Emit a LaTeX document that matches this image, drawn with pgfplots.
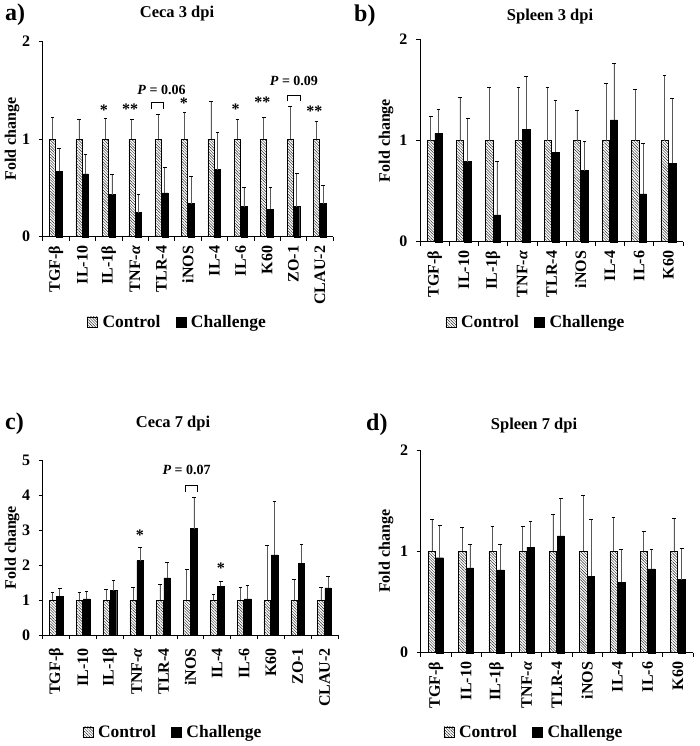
\documentclass[border=0pt]{standalone}
\usepackage{fontspec}
\setmainfont{Liberation Serif}
\usepackage{pgfplots}
\usepackage{pgfplotstable}
\pgfplotsset{compat=1.18}
\usetikzlibrary{patterns.meta}

\newcommand\fs[1]{\fontsize{#1}{#1}\selectfont\bfseries}

\pgfplotstableread{
x c ce h he
0 1 0.226 0.671 0.237
1 1 0.199 0.644 0.198
2 1 0.209 0.432 0.205
3 1 0.200 0.247 0.188
4 1 0.253 0.449 0.260
5 1 0.274 0.339 0.277
6 1 0.390 0.688 0.380
7 1 0.202 0.308 0.195
8 1 0.219 0.281 0.222
9 1 0.339 0.308 0.346
10 1 0.185 0.339 0.185
}\dataA

\pgfplotstableread{
x c ce h he
0 1 0.238 1.073 0.237
1 1 0.429 0.792 0.429
2 1 0.528 0.264 0.525
3 1 0.528 1.112 0.522
4 1 0.521 0.884 0.512
5 1 0.294 0.703 0.284
6 1 0.568 1.205 0.557
7 1 0.502 0.472 0.498
8 1 0.647 0.776 0.637
}\dataB

\pgfplotstableread{
x c ce h he
0 1 0.21 1.106 0.221
1 1 0.21 1.03 0.21
2 1 0.29 1.27 0.28
3 1 0.365 2.125 0.385
4 1 0.44 1.635 0.435
5 1 0.875 3.04 0.88
6 1 0.15 1.39 0.15
7 1 0.365 1.03 0.38
8 1 1.55 2.29 1.53
9 1 0.60 2.05 0.55
10 1 0.36 1.35 0.33
}\dataC

\pgfplotstableread{
x c ce h he
0 1 0.311 0.937 0.321
1 1 0.232 0.838 0.232
2 1 0.248 0.818 0.252
3 1 0.248 1.043 0.255
4 1 0.364 1.152 0.368
5 1 0.556 0.755 0.556
6 1 0.338 0.695 0.328
7 1 0.199 0.828 0.195
8 1 0.321 0.722 0.311
}\dataD

\tikzset{
  ast/.style={font=\fs{16}, anchor=center},
  pv/.style={font=\fs{14}, anchor=center},
  ylab/.style={font=\fs{16}, rotate=90, anchor=center},
}

\pgfplotsset{
  panel/.style={
    scale only axis, ybar, ymin=0, enlargelimits=false,
    axis x line*=bottom, axis y line*=left,
    axis line style={line width=0.8pt, black},
    tick align=outside,
    major x tick style={draw=none},
    minor x tick style={black, line width=0.6pt},
    major y tick style={black, line width=0.6pt},
    major tick length=4pt, minor tick length=4pt,
    xticklabel style={rotate=90, anchor=east, font=\fs{16}, inner ysep=2pt, inner xsep=5pt},
    yticklabel style={font=\fs{16}, xshift=-5pt},
    /pgf/number format/assume math mode=true,
    legend style={draw=none, fill=none, font=\fs{17.5}, anchor=center, legend columns=2,
      /tikz/every even column/.append style={column sep=13pt}},
    clip=false,
  },
  sqleg/.style={legend image code/.code={\draw[##1] (0pt,-5pt) rectangle (10pt,5pt); \path (13pt,0pt);}},
  eb/.style={/pgfplots/error bars/y dir=plus, /pgfplots/error bars/y explicit,
    /pgfplots/error bars/error bar style={black!65, line width=0.6pt},
    /pgfplots/error bars/error mark options={rotate=90, mark size=1.8pt, black, line width=0.8pt}},
  ctrl/.style={draw=black, line width=0.5pt, pattern={Lines[angle=-45,distance=2pt,line width=0.45pt]}, pattern color=black!85, sqleg},
  chal/.style={draw=black, fill=black, sqleg},
}

\begin{document}
\begin{tikzpicture}[x=1pt,y=1pt]
\path[use as bounding box] (0,0) rectangle (700,-746);

% panel a
\begin{axis}[panel, at={(42.7pt,-236.7pt)}, anchor=south west, width=290.3pt, height=195pt,
  xmin=-0.5, xmax=10.5, ymax=2, ytick={0,1,2},
  xtick={0,...,10}, xticklabels={TGF-β, IL-10, IL-1β, TNF-{\itshape α}, TLR-4, iNOS, IL-4, IL-6, K60, ZO-1, CLAU-2},
  minor xtick={-0.5,0.5,...,10.5},
  bar width=6pt,
  legend style={at={(0.464,-0.437)}}]
\addplot[ctrl, bar shift=-3.3pt, eb] table[x=x, y=c, y error=ce] {\dataA};
\addplot[chal, bar shift=3.3pt, eb] table[x=x, y=h, y error=he] {\dataA};
\legend{Control, Challenge}
\node[ast] at (axis cs:1.82,1.30) {*};
\node[ast] at (axis cs:2.81,1.31) {**};
\node[ast] at (axis cs:4.85,1.37) {*};
\node[ast] at (axis cs:6.81,1.31) {*};
\node[ast] at (axis cs:7.82,1.38) {**};
\node[ast] at (axis cs:9.79,1.29) {**};
\node[pv] at (axis cs:4.0,1.505) {\textit{P} = 0.06};
\draw[line width=0.7pt] (axis cs:3.62,1.307) -- (axis cs:3.62,1.374) -- (axis cs:4.06,1.374) -- (axis cs:4.06,1.307);
\node[pv] at (axis cs:9.02,1.60) {\textit{P} = 0.09};
\draw[line width=0.7pt] (axis cs:8.77,1.389) -- (axis cs:8.77,1.45) -- (axis cs:9.25,1.45) -- (axis cs:9.25,1.389);
\end{axis}

% panel b
\begin{axis}[panel, at={(420pt,-241.7pt)}, anchor=south west, width=263pt, height=202.4pt,
  xmin=-0.5, xmax=8.5, ymax=2, ytick={0,1,2},
  xtick={0,...,8}, xticklabels={TGF-β, IL-10, IL-1β, TNF-{\itshape α}, TLR-4, iNOS, IL-4, IL-6, K60},
  minor xtick={-0.5,0.5,...,8.5},
  bar width=7.2pt,
  legend style={at={(0.441,-0.397)}}]
\addplot[ctrl, bar shift=-3.9pt, eb] table[x=x, y=c, y error=ce] {\dataB};
\addplot[chal, bar shift=3.9pt, eb] table[x=x, y=h, y error=he] {\dataB};
\legend{Control, Challenge}
\end{axis}

% panel c
\begin{axis}[panel, at={(42.7pt,-635pt)}, anchor=south west, width=295.3pt, height=175pt,
  xmin=-0.5, xmax=10.5, ymax=5, ytick={0,1,2,3,4,5},
  xtick={0,...,10}, xticklabels={TGF-β, IL-10, IL-1β, TNF-{\itshape α}, TLR-4, iNOS, IL-4, IL-6, K60, ZO-1, CLAU-2},
  minor xtick={-0.5,0.5,...,10.5},
  xticklabel style={inner xsep=9pt},
  bar width=6.6pt,
  legend style={at={(0.441,-0.554)}}]
\addplot[ctrl, bar shift=-3.6pt, eb] table[x=x, y=c, y error=ce] {\dataC};
\addplot[chal, bar shift=3.6pt, eb] table[x=x, y=h, y error=he] {\dataC};
\legend{Control, Challenge}
\node[ast] at (axis cs:3.12,2.84) {*};
\node[ast] at (axis cs:6.14,1.91) {*};
\node[pv] at (axis cs:4.86,4.71) {\textit{P} = 0.07};
\draw[line width=0.7pt] (axis cs:4.80,4.08) -- (axis cs:4.80,4.27) -- (axis cs:5.26,4.27) -- (axis cs:5.26,4.08);
\end{axis}

% panel d
\begin{axis}[panel, at={(420.7pt,-652.7pt)}, anchor=south west, width=272.3pt, height=202.7pt,
  xmin=-0.5, xmax=8.5, ymax=2, ytick={0,1,2},
  xtick={0,...,8}, xticklabels={TGF-β, IL-10, IL-1β, TNF-{\itshape α}, TLR-4, iNOS, IL-4, IL-6, K60},
  minor xtick={-0.5,0.5,...,8.5},
  bar width=7.2pt,
  legend style={at={(0.416,-0.391)}}]
\addplot[ctrl, bar shift=-3.9pt, eb] table[x=x, y=c, y error=ce] {\dataD};
\addplot[chal, bar shift=3.9pt, eb] table[x=x, y=h, y error=he] {\dataD};
\legend{Control, Challenge}
\end{axis}

% axis titles
\node[ylab] at (12,-139.2) {Fold change};
\node[ylab] at (386,-140.5) {Fold change};
\node[ylab] at (12,-547.5) {Fold change};
\node[ylab] at (386,-551.3) {Fold change};

% titles and panel letters
\node[font=\fs{16.5}] at (177,-14) {Ceca 3 dpi};
\node[font=\fs{16.5}] at (550,-17) {Spleen 3 dpi};
\node[font=\fs{16.5}] at (173,-424) {Ceca 7 dpi};
\node[font=\fs{16.5}] at (534,-426) {Spleen 7 dpi};
\node[font=\fs{24}, anchor=west, inner sep=0pt] at (5,-15) {a)};
\node[font=\fs{24}, anchor=west, inner sep=0pt] at (354,-16) {b)};
\node[font=\fs{24}, anchor=west, inner sep=0pt] at (5,-424) {c)};
\node[font=\fs{24}, anchor=west, inner sep=0pt] at (366,-425) {d)};
\end{tikzpicture}
\end{document}
